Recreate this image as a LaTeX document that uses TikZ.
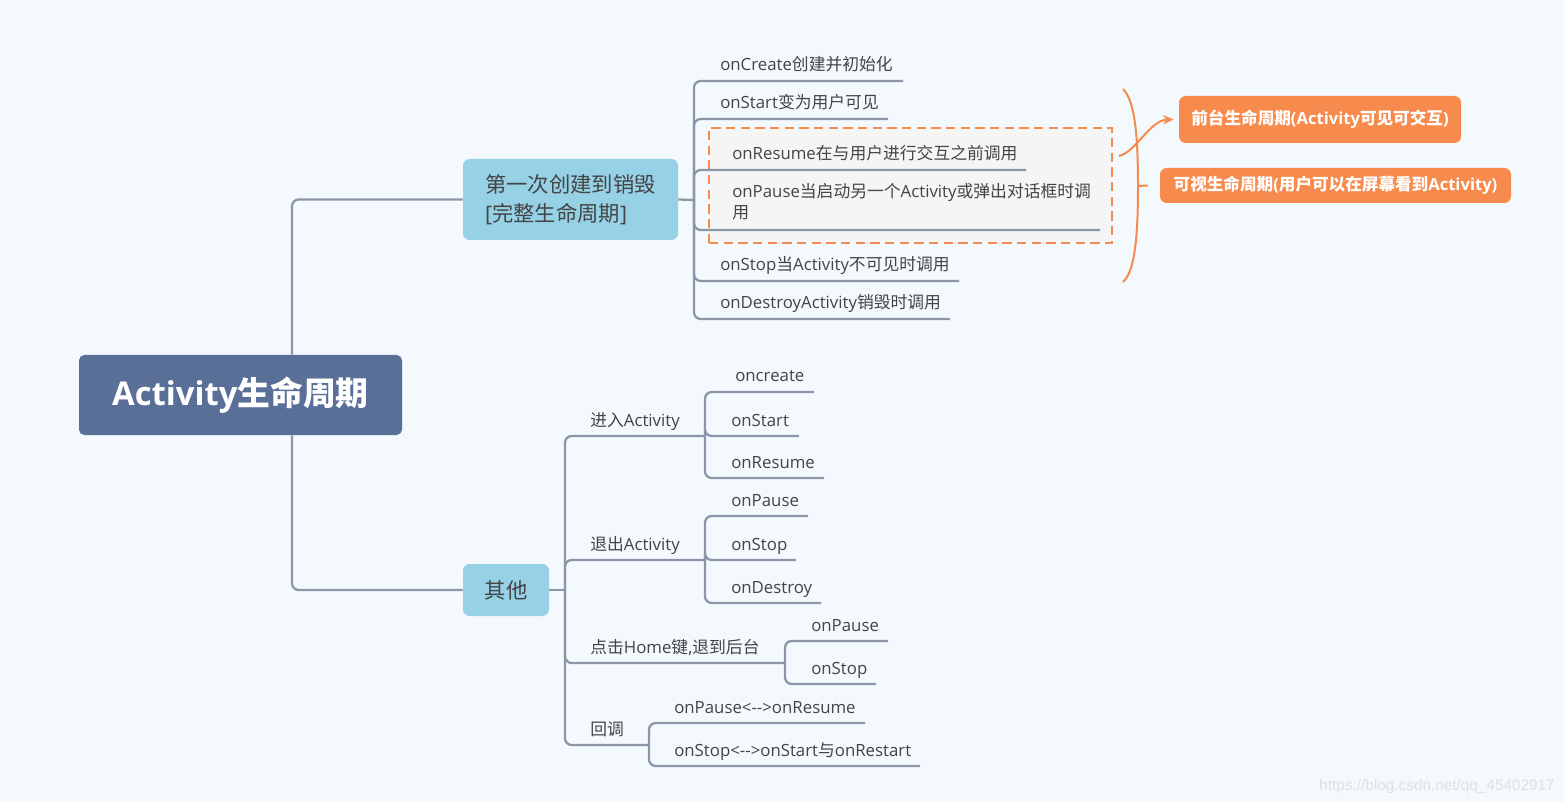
\documentclass[tikz,border=0pt]{standalone}
\usepackage{fontspec}
\setmainfont{Open Sans}
\newfontfamily\zhfont{Noto Sans CJK SC}
\newfontfamily\wmfont{Liberation Sans}
\newcommand\zh[1]{{\zhfont #1}}
\usetikzlibrary{arrows.meta,calc}
\definecolor{bgc}{HTML}{F4F9FD}
\definecolor{rootc}{HTML}{5A6F98}
\definecolor{mainc}{HTML}{96D1E6}
\definecolor{linec}{HTML}{8B96A9}
\definecolor{txt}{HTML}{444444}
\definecolor{org}{HTML}{F68B4D}
\definecolor{boxfill}{HTML}{F5F5F5}
\definecolor{wmc}{HTML}{DDE1E5}
\begin{document}
\begin{tikzpicture}[x=0.75pt,y=-0.75pt,
  leaf/.style={anchor=base west, inner sep=0pt, text=txt, font=\fontsize{12.6}{15.75}\selectfont},
  branch/.style={draw=linec, line width=1.7pt, rounded corners=5pt},
  rootbox/.style={fill=rootc, rounded corners=4pt, text=white, font=\fontsize{24.6}{28}\selectfont\bfseries, inner sep=0pt},
  mainbox/.style={fill=mainc, rounded corners=5pt, text=txt, font=\fontsize{16}{21.75}\selectfont, inner sep=0pt, align=left},
  tagbox/.style={fill=org, rounded corners=5pt, text=white, font=\fontsize{12.45}{15}\selectfont\bfseries, inner sep=0pt},
  groupbox/.style={draw=org, fill=boxfill, line width=1.5pt, dash pattern=on 7pt off 4pt, inner sep=0pt},
  orgline/.style={draw=org, line width=1.5pt}
]
\fill[bgc] (0,0) rectangle (1564,802);
\useasboundingbox (0,0) rectangle (1564,802);

% group box
\node[groupbox, minimum width=302.25pt, minimum height=86.25pt] (box) at (910.5,185.5) {};

% main nodes
\node[rootbox, minimum width=242.25pt, minimum height=60pt] (root) at (240.5,395) {Activity\zh{生命周期}};
\node[mainbox, minimum width=161.25pt, minimum height=60.75pt] (n1) at (570.5,199.5) {\zh{第一次创建到销毁}\\{}[\zh{完整生命周期}]};
\node[mainbox, minimum width=64.5pt, minimum height=39pt] (n2) at (506,590) {\zh{其他}};

% tags
\node[tagbox, minimum width=211.5pt, minimum height=35.25pt] (f1) at (1320,119.5) {\zh{前台生命周期}(Activity\zh{可见可交互})};
\node[tagbox, minimum width=263.25pt, minimum height=26.25pt] (f2) at (1335.5,185.5) {\zh{可视生命周期}(\zh{用户可以在屏幕看到}Activity)};

% top children text
\node[leaf] (t1) at (720,71) {onCreate\zh{创建并初始化}};
\node[leaf] (t2) at (720,109) {onStart\zh{变为用户可见}};
\node[leaf] (t3) at (732,160) {onResume\zh{在与用户进行交互之前调用}};
\node[leaf, align=left] (t4) at (732,219) {onPause\zh{当启动另一个}Activity\zh{或弹出对话框时调}\\\zh{用}};
\node[leaf] (t5) at (720,271) {onStop\zh{当}Activity\zh{不可见时调用}};
\node[leaf] (t6) at (720,309) {onDestroyActivity\zh{销毁时调用}};

\coordinate (j1) at (694,200);
\coordinate (u1) at (903,81);
\coordinate (u2) at (888,119);
\coordinate (u3) at (1026,170);
\coordinate (u4) at (1100,230);
\coordinate (u5) at (959,281);
\coordinate (u6) at (950,319);

\draw[branch] ($(root.north)+(51.5,0)$) |- (n1.west);
\draw[branch] ($(root.south)+(51.5,0)$) |- (n2.west);
\draw[branch] (n1.east) -- (j1);
\foreach \u in {u1,u2,u3,u4,u5,u6} \draw[branch] (j1) |- (\u);

% lower
\coordinate (j2) at (565,590);
\draw[branch] (n2.east) -- (j2);
\node[leaf] (l1) at (590,426) {\zh{进入}Activity};
\node[leaf] (l2) at (590,550) {\zh{退出}Activity};
\node[leaf] (l3) at (590,653) {\zh{点击}Home\zh{键},\zh{退到后台}};
\node[leaf] (l4) at (590,735) {\zh{回调}};
\coordinate (e1) at (705,436);
\coordinate (e2) at (705,560);
\coordinate (e3) at (785,663);
\coordinate (e4) at (649,745);
\foreach \e in {e1,e2,e3,e4} \draw[branch] (j2) |- (\e);

\node[leaf] (s1) at (735,382) {oncreate};
\node[leaf] (s2) at (731,426) {onStart};
\node[leaf] (s3) at (731,468) {onResume};
\coordinate (v1) at (814,392);
\coordinate (v2) at (799,436);
\coordinate (v3) at (824,478);
\foreach \v in {v1,v2,v3} \draw[branch] (e1) |- (\v);

\node[leaf] (s4) at (731,506) {onPause};
\node[leaf] (s5) at (731,550) {onStop};
\node[leaf] (s6) at (731,593) {onDestroy};
\coordinate (v4) at (808,516);
\coordinate (v5) at (796,560);
\coordinate (v6) at (821,603);
\foreach \v in {v4,v5,v6} \draw[branch] (e2) |- (\v);

\node[leaf] (s7) at (811,631) {onPause};
\node[leaf] (s8) at (811,674) {onStop};
\coordinate (v7) at (888,641);
\coordinate (v8) at (876,684);
\foreach \v in {v7,v8} \draw[branch] (e3) |- (\v);

\node[leaf] (s9) at (674,713) {onPause<-{}->onResume};
\node[leaf] (s10) at (674,756) {onStop<-{}->onStart\zh{与}onRestart};
\coordinate (v9) at (865,723);
\coordinate (v10) at (920,766);
\foreach \v in {v9,v10} \draw[branch] (e4) |- (\v);

% orange arrow and brace
\draw[orgline, -{Stealth[length=8pt,width=7pt]}] ($(box.north east)+(6,29)$) .. controls (1136,152) and (1150,120) .. ($(f1.west)+(-5,0)$);
\coordinate (bt) at (1123,89);
\coordinate (bm) at (1138,186);
\coordinate (bb) at (1123,282);
\draw[orgline] (bt) .. controls (1134,100) and (1138,130) .. (bm) .. controls (1138,242) and (1134,272) .. (bb);
\draw[orgline] (bm) -- ($(f2.west)+(-12,0)$);

% watermark
\node[anchor=base east, inner sep=0pt, text=wmc, font=\wmfont\fontsize{11.5}{13}\selectfont] (wm) at (1555,790) {https://blog.csdn.net/qq\_45402917};
\end{tikzpicture}
\end{document}
